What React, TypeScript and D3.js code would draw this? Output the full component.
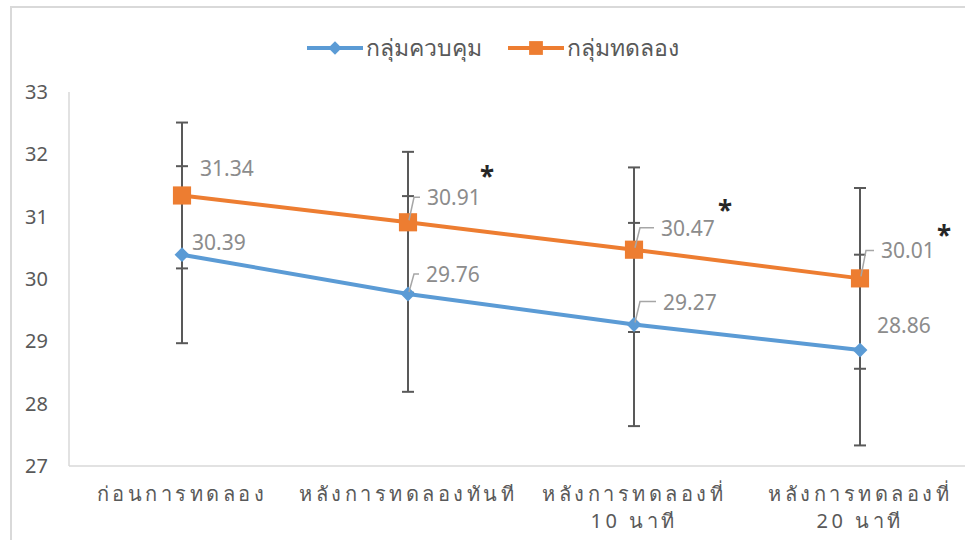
import * as d3 from 'd3';
import React, { useEffect, useRef } from 'react';

// categories (x axis), split into lines
const categories = ['ก่อนการทดลอง', 'หลังการทดลองทันที', 'หลังการทดลองที่|10 นาที', 'หลังการทดลองที่|20 นาที'];

const seriesNames = ['กลุ่มควบคุม', 'กลุ่มทดลอง'];

// control group
const controlMean = [30.39, 29.76, 29.27, 28.86];
const controlSD = [1.42, 1.57, 1.63, 1.53];

// experimental group
const expMean = [31.34, 30.91, 30.47, 30.01];
const expSD = [1.17, 1.13, 1.32, 1.45];

// significance marks
const significant = [false, true, true, true];

const yTicks = [27, 28, 29, 30, 31, 32, 33];

// label placement (offset from the point: text start, baseline) and leader flag
const controlLabelPos = [[10, -5, 0], [18, -12, 1], [29, -15, 1], [17, -17, 0]];
const expLabelPos = [[18, -19, 0], [19, -17, 1], [27, -14, 1], [21, -20, 1]];
const starPos = [[0, 0], [79, -36], [91, -30], [84, -33]];

const BLUE = '#5B9BD5';
const ORANGE = '#ED7D31';
const GRAY_TEXT = '#595959';
const LABEL = '#8C8C8C';

// diamond = square turned 45 degrees
const diamond = { draw(ctx, size) { const r = Math.sqrt(size / 2); ctx.moveTo(0, -r); ctx.lineTo(r, 0); ctx.lineTo(0, r); ctx.lineTo(-r, 0); ctx.closePath(); } };

const Chart = () => {
    const svgRef = useRef(null);

    useEffect(() => {
        const width = 965;
        const height = 540;
        const margin = { top: 92, right: -8, bottom: 74, left: 69 };

        const svg = d3.select(svgRef.current);
        svg.selectAll('*').remove();
        svg.attr('width', width).attr('height', height);

        const font = '"Noto Sans", "Open Sans", sans-serif';

        // outer frame
        svg.append('path')
            .attr('d', `M11,${height} V7 H${width}`)
            .attr('fill', 'none')
            .attr('stroke', '#D9D9D9')
            .attr('stroke-width', 2);

        const xScale = d3.scaleBand()
            .domain(categories)
            .range([margin.left, width - margin.right]);

        const yScale = d3.scaleLinear()
            .domain([27, 33])
            .range([height - margin.bottom, margin.top]);

        const cx = d => xScale(d) + xScale.bandwidth() / 2;

        // axes lines
        svg.append('line')
            .attr('x1', margin.left).attr('x2', margin.left)
            .attr('y1', yScale(33)).attr('y2', yScale(27))
            .attr('stroke', '#D9D9D9').attr('stroke-width', 1.5);
        svg.append('line')
            .attr('x1', margin.left).attr('x2', width)
            .attr('y1', yScale(27)).attr('y2', yScale(27))
            .attr('stroke', '#D9D9D9').attr('stroke-width', 1.5);

        // y tick labels
        svg.append('g')
            .selectAll('text')
            .data(yTicks)
            .enter()
            .append('text')
            .attr('x', 48)
            .attr('y', d => yScale(d))
            .attr('dy', '0.35em')
            .attr('text-anchor', 'end')
            .attr('fill', GRAY_TEXT)
            .style('font-family', font)
            .style('font-size', '20px')
            .text(d => d);

        // x category labels
        const xl = svg.append('g')
            .selectAll('text')
            .data(categories)
            .enter()
            .append('text')
            .attr('x', d => cx(d))
            .attr('y', 501)
            .attr('text-anchor', 'middle')
            .attr('fill', GRAY_TEXT)
            .style('font-family', font)
            .style('font-size', '20px')
            .style('letter-spacing', '3.5px');
        xl.each(function (d) {
            const lines = d.split('|');
            const t = d3.select(this);
            lines.forEach((ln, i) => {
                t.append('tspan')
                    .attr('x', cx(d))
                    .attr('dy', i === 0 ? 0 : 27)
                    .text(ln);
            });
        });

        // error bars
        const series = [
            { mean: controlMean, sd: controlSD, color: BLUE, marker: 'diamond', pos: controlLabelPos },
            { mean: expMean, sd: expSD, color: ORANGE, marker: 'square', pos: expLabelPos }
        ];

        series.forEach(s => {
            const g = svg.append('g');
            s.mean.forEach((m, i) => {
                const x = cx(categories[i]);
                const y0 = yScale(m - s.sd[i]);
                const y1 = yScale(m + s.sd[i]);
                g.append('line')
                    .attr('x1', x).attr('x2', x).attr('y1', y0).attr('y2', y1)
                    .attr('stroke', '#595959').attr('stroke-width', 2);
                [y0, y1].forEach(yy => {
                    g.append('line')
                        .attr('x1', x - 6).attr('x2', x + 6).attr('y1', yy).attr('y2', yy)
                        .attr('stroke', '#595959').attr('stroke-width', 2);
                });
            });
        });

        // lines and markers
        series.forEach(s => {
            const line = d3.line()
                .x((d, i) => cx(categories[i]))
                .y(d => yScale(d));
            svg.append('path')
                .datum(s.mean)
                .attr('fill', 'none')
                .attr('stroke', s.color)
                .attr('stroke-width', 4)
                .attr('d', line);

            const sym = s.marker === 'square'
                ? d3.symbol().type(d3.symbolSquare).size(330)
                : d3.symbol().type(diamond).size(110);
            svg.append('g')
                .selectAll('path')
                .data(s.mean)
                .enter()
                .append('path')
                .attr('transform', (d, i) => `translate(${cx(categories[i])},${yScale(d)})`)
                .attr('d', sym)
                .attr('fill', s.color);
        });

        // data labels with leader lines
        series.forEach(s => {
            s.mean.forEach((m, i) => {
                const x = cx(categories[i]);
                const y = yScale(m);
                const [dx, dy, leader] = s.pos[i];
                if (leader) {
                    const ly = y + dy - 8;
                    svg.append('path')
                        .attr('d', `M${x + 1},${y - 2} L${x + Math.min(6, dx - 12)},${ly} H${x + dx - 7}`)
                        .attr('fill', 'none')
                        .attr('stroke', '#A6A6A6')
                        .attr('stroke-width', 1.5);
                }
                svg.append('text')
                    .attr('x', x + dx)
                    .attr('y', y + dy)
                    .attr('fill', LABEL)
                    .style('font-family', font)
                    .style('font-size', '21px')
                    .text(m.toFixed(2));
            });
        });

        // significance asterisks
        expMean.forEach((m, i) => {
            if (!significant[i]) return;
            svg.append('text')
                .attr('x', cx(categories[i]) + starPos[i][0])
                .attr('y', yScale(m) + starPos[i][1])
                .attr('text-anchor', 'middle')
                .attr('fill', '#262626')
                .style('font-family', font)
                .style('font-weight', 'bold')
                .style('font-size', '26px')
                .text('*');
        });

        // legend
        const legend = svg.append('g');
        const legendItems = [
            { name: seriesNames[0], color: BLUE, x: 307, marker: diamond, size: 90 },
            { name: seriesNames[1], color: ORANGE, x: 508, marker: d3.symbolSquare, size: 190 }
        ];
        legendItems.forEach(it => {
            legend.append('line')
                .attr('x1', it.x).attr('x2', it.x + 56)
                .attr('y1', 48).attr('y2', 48)
                .attr('stroke', it.color).attr('stroke-width', 4);
            legend.append('path')
                .attr('transform', `translate(${it.x + 28},48)`)
                .attr('d', d3.symbol().type(it.marker).size(it.size))
                .attr('fill', it.color);
            legend.append('text')
                .attr('x', it.x + 59)
                .attr('y', 48)
                .attr('dy', '0.35em')
                .attr('fill', GRAY_TEXT)
                .style('font-family', font)
                .style('font-size', '23px')
                .text(it.name);
        });
    }, []);

    return <svg ref={svgRef} style={{ position: 'absolute', left: 0, top: 0 }}></svg>;
};

export default function App() {
    return <Chart />;
}
